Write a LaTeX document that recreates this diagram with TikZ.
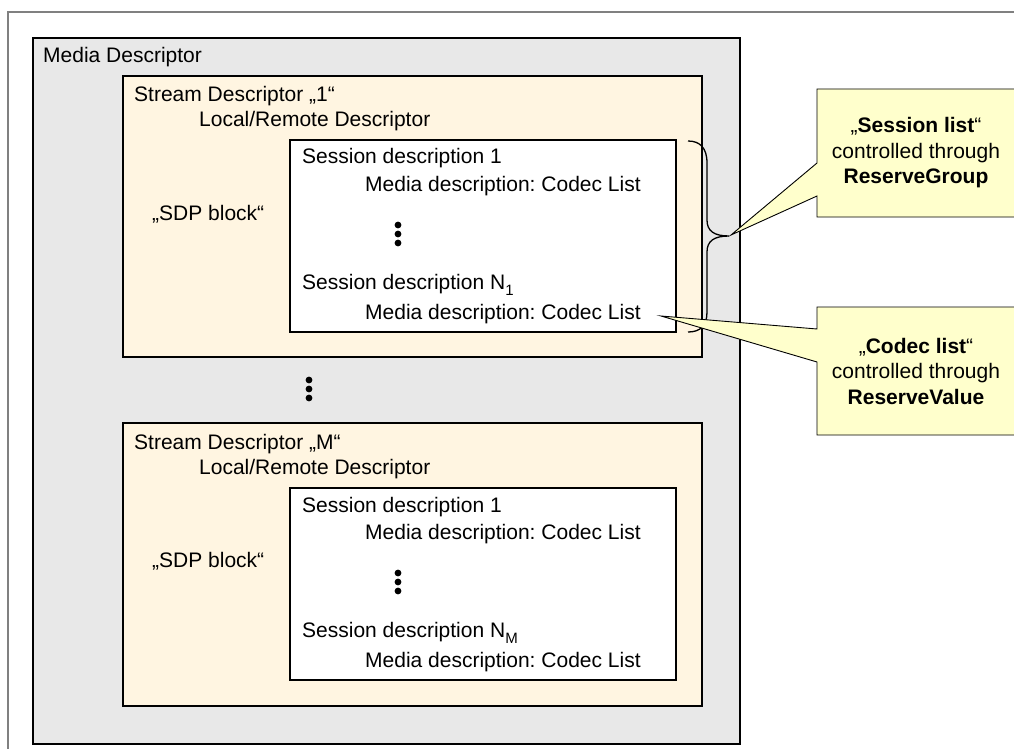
\documentclass[tikz,border=0pt]{standalone}
\usepackage{fontspec}
\setmainfont{Liberation Sans}
\frenchspacing
\definecolor{mediagray}{HTML}{E8E8E8}
\definecolor{streambg}{HTML}{FFF5E1}
\definecolor{callbg}{HTML}{FFFFCC}
\definecolor{framegray}{HTML}{808080}
\newcommand{\mysub}[1]{\raisebox{-6pt}{\fontsize{15}{15}\selectfont #1}}
\tikzset{
  box/.style={draw=black, line width=1.5pt, anchor=north west, inner sep=0pt, outer sep=0pt},
  lbl/.style={anchor=base west, inner sep=0pt, font=\fontsize{21}{25}\selectfont},
  calltext/.style={align=center, inner sep=0pt, font=\fontsize{21}{25.5}\selectfont},
  callshape/.style={fill=callbg, draw=black, line width=0.9pt, line join=miter},
  dotfill/.style={fill=black},
  bracestyle/.style={draw=black, line width=1.3pt}
}
\begin{document}
\begin{tikzpicture}[x=1pt,y=-1pt]
\useasboundingbox (0,0) rectangle (1014,749);
\clip (0,0) rectangle (1014,749);
\fill[white] (0,0) rectangle (1014,749);
\draw[framegray, line width=1.3pt] (8,12) rectangle (1040,780);

% boxes
\node[box, fill=mediagray, minimum width=707pt, minimum height=706pt] (media) at (33,38) {};
\node[box, fill=streambg, minimum width=579pt, minimum height=281pt] (stream1) at (123,76) {};
\node[box, fill=streambg, minimum width=579pt, minimum height=283pt] (streamM) at (123,423) {};
\node[box, fill=white, line width=1.2pt, minimum width=386pt, minimum height=192pt] (box1) at (290,140) {};
\node[box, fill=white, line width=1.2pt, minimum width=386pt, minimum height=192pt] (boxM) at (290,488) {};

% texts
\node[lbl] (mediaT) at (43,63) {Media Descriptor};

\node[lbl] (s1T) at (134,102) {Stream Descriptor „1“};
\node[lbl] (s1L) at (199,127) {Local/Remote Descriptor};
\node[lbl] (sdp1) at (152,220) {„SDP block“};
\node[lbl] (b1a) at (302,164) {Session description 1};
\node[lbl] (b1b) at (365,191) {Media description: Codec List};
\node[lbl] (b1c) at (302,289) {Session description N\mysub{1}};
\node[lbl] (b1d) at (365,319) {Media description: Codec List};
\fill[dotfill] (398,225) circle (3.4) (398,234) circle (3.4) (398,243) circle (3.4);

\fill[dotfill] (309,380) circle (3.4) (309,389) circle (3.4) (309,398) circle (3.4);

\node[lbl] (sMT) at (134,449) {Stream Descriptor „M“};
\node[lbl] (sML) at (199,474) {Local/Remote Descriptor};
\node[lbl] (sdpM) at (152,567) {„SDP block“};
\node[lbl] (bMa) at (302,512) {Session description 1};
\node[lbl] (bMb) at (365,539) {Media description: Codec List};
\node[lbl] (bMc) at (302,637) {Session description N\mysub{M}};
\node[lbl] (bMd) at (365,667) {Media description: Codec List};
\fill[dotfill] (398,573) circle (3.4) (398,582) circle (3.4) (398,591) circle (3.4);

% brace
\draw[bracestyle] (688,141) .. controls (700,141) and (707,148) .. (707,163)
  -- (707,220) .. controls (707,231) and (714,236) .. (729,236)
  .. controls (714,236) and (707,241) .. (707,252)
  -- (707,312) .. controls (707,326) and (700,332) .. (688,332);

% callouts
\coordinate (tip1) at (731,235);
\coordinate (tip2) at (661,316);
\draw[callshape] (817,89) -- (1030,89) -- (1030,217) -- (817,217) -- (817,196) -- (tip1) -- (817,163) -- cycle;
\node[calltext] (call1) at (916,153) {„\textbf{Session list}“\\controlled through\\\textbf{ReserveGroup}};
\draw[callshape] (817,307) -- (1030,307) -- (1030,435) -- (817,435) -- (817,362) -- (tip2) -- (817,329) -- cycle;
\node[calltext] (call2) at (916,371) {„\textbf{Codec list}“\\controlled through\\\textbf{ReserveValue}};
\end{tikzpicture}
\end{document}
